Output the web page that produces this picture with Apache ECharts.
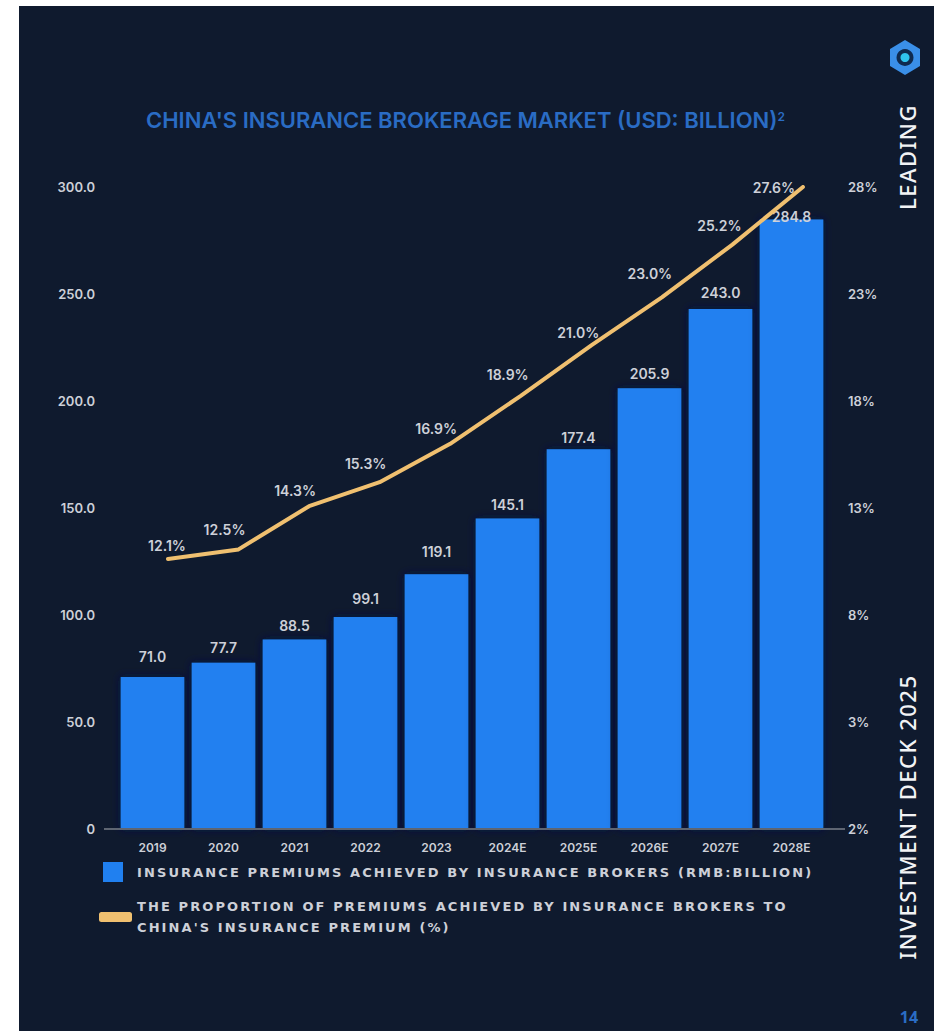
<!DOCTYPE html>
<html>
<head>
<meta charset="utf-8">
<style>
html,body{margin:0;padding:0;background:#fff}
#chart{width:934px;height:1031px}
/* Tracking for the wide-set legend and side captions. */
#chart svg text[style*="DejaVu"]{letter-spacing:2.1px}
#chart svg text[style*="Noto Sans"]{letter-spacing:1.5px}
</style>
<script src="https://cdn.jsdelivr.net/npm/echarts@6/dist/echarts.min.js"></script>
</head>
<body>
<div id="chart"></div>
<script>
const years = ['2019','2020','2021','2022','2023','2024E','2025E','2026E','2027E','2028E'];
const premiums = [71.0,77.7,88.5,99.1,119.1,145.1,177.4,205.9,243.0,284.8];
const proportions = [12.1,12.5,14.3,15.3,16.9,18.9,21.0,23.0,25.2,27.6];
const rightTicks = [-2,3,8,13,18,23,28];
const barName = 'INSURANCE PREMIUMS ACHIEVED BY INSURANCE BROKERS (RMB:BILLION)';
const lineName = "THE PROPORTION OF PREMIUMS ACHIEVED BY INSURANCE BROKERS TO CHINA'S INSURANCE PREMIUM (%)";

// Label placement around the marks, one nudge per year.
const lineLabelNudge = [[-1,-14],[-14,-20],[-14,-16],[-14,-19],[-14,-15],[-13,-21],[-13,-13],[-12,-24],[-13,-19],[-29,0]];
const barLabelNudge = [-7,-1,0,-4,-9,0,2,-1,-2,11];

const TEXT = '#cdd0d8';
const BLUE = '#2080f0';
const GOLD = '#f0c070';
const FONT = 'Inter';

const chart = echarts.init(document.getElementById('chart'), null, { renderer: 'svg' });
chart.setOption({
  animation: false,
  backgroundColor: '#ffffff',
  title: {
    text: "CHINA'S INSURANCE BROKERAGE MARKET (USD: BILLION){sup|2}",
    left: 146, top: 109, padding: 0,
    textStyle: {
      color: '#2a6cc4', fontFamily: FONT, fontSize: 22, fontWeight: 600,
      rich: { sup: { color: '#2a6cc4', fontFamily: FONT, fontSize: 12, fontWeight: 600, padding: [0,0,8,0] } }
    }
  },
  grid: [
    { left: 117, width: 710, top: 187, height: 642 },
    { left: 132.7, width: 705.5, top: 187, height: 642 }
  ],
  xAxis: [
    { type: 'category', gridIndex: 0, data: years,
      axisLine: { show: false }, axisTick: { show: false },
      axisLabel: { color: TEXT, fontFamily: FONT, fontSize: 12, fontWeight: 600, margin: 12 } },
    { type: 'category', gridIndex: 1, data: years, show: false }
  ],
  yAxis: [
    { type: 'value', gridIndex: 0, min: 0, max: 300, interval: 50,
      splitLine: { show: false }, axisLine: { show: false }, axisTick: { show: false },
      axisLabel: { color: TEXT, fontFamily: FONT, fontSize: 13, fontWeight: 600, margin: 22,
        formatter: v => v === 0 ? '0' : v.toFixed(1) } },
    { type: 'value', gridIndex: 0, position: 'right', min: -2, max: 28,
      splitLine: { show: false }, axisLine: { show: false }, axisTick: { show: false },
      axisLabel: { color: TEXT, fontFamily: FONT, fontSize: 13, fontWeight: 600, margin: 21,
        customValues: rightTicks, formatter: v => Math.abs(v) + '%' } },
    { type: 'value', gridIndex: 1, min: 0.85, max: 27.6, show: false, splitLine: { show: false } }
  ],
  legend: [
    { data: [{ name: barName, icon: 'rect', itemStyle: { color: BLUE } }],
      left: 103, top: 862, padding: 0, itemWidth: 20, itemHeight: 20, itemGap: 0,
      textStyle: { color: TEXT, fontFamily: 'DejaVu Sans', fontSize: 13, fontWeight: 700, padding: [0,0,0,9] },
      selectedMode: false },
    { data: [{ name: lineName, icon: 'roundRect', itemStyle: { color: GOLD } }],
      left: 99, top: 896, padding: 0, itemWidth: 33, itemHeight: 10, itemGap: 0,
      formatter: n => n.replace(' TO ', ' TO\n'),
      textStyle: { color: TEXT, fontFamily: 'DejaVu Sans', fontSize: 13, fontWeight: 700, lineHeight: 21, padding: [0,0,0,0] },
      selectedMode: false }
  ],
  series: [
    { type: 'bar', name: barName, xAxisIndex: 0, yAxisIndex: 0,
      data: premiums.map((v, i) => ({ value: v, label: { offset: [0, barLabelNudge[i]] } })),
      barCategoryGap: '10.5%',
      itemStyle: { color: BLUE, shadowColor: '#03174a', shadowBlur: 10 },
      label: { show: true, position: 'top', distance: 7, color: TEXT, fontFamily: FONT, fontSize: 14, fontWeight: 600,
        formatter: p => p.value.toFixed(1) } },
    { type: 'line', name: lineName, xAxisIndex: 1, yAxisIndex: 2, z: 5,
      data: proportions.map((v, i) => ({ value: v, label: { offset: lineLabelNudge[i] } })),
      showSymbol: true, symbol: 'circle', symbolSize: 1,
      lineStyle: { color: GOLD, width: 4, cap: 'round', join: 'round' },
      itemStyle: { color: GOLD },
      label: { show: true, position: 'inside', color: TEXT, fontFamily: FONT, fontSize: 14, fontWeight: 600,
        formatter: p => p.value.toFixed(1) + '%' } }
  ],
  graphic: [
    { type: 'rect', z: -10, silent: true, shape: { x: 19, y: 6, width: 915, height: 1025 }, style: { fill: '#0f1a2e' } },
    { type: 'rect', z: 3, silent: true, shape: { x: 104, y: 828, width: 741, height: 2 }, style: { fill: '#5e6572' } },
    { type: 'text', silent: true, x: 907, y: 157, rotation: Math.PI / 2,
      style: { text: 'LEADING', fill: '#f2f3f5', font: '500 22px "Noto Sans"', align: 'center', verticalAlign: 'middle' } },
    { type: 'text', silent: true, x: 907, y: 817, rotation: Math.PI / 2,
      style: { text: 'INVESTMENT DECK 2025', fill: '#f2f3f5', font: '500 22px "Noto Sans"', align: 'center', verticalAlign: 'middle' } },
    { type: 'text', silent: true, x: 909, y: 1017,
      style: { text: '14', fill: '#2a6cc4', font: '700 16px "Open Sans"', align: 'center', verticalAlign: 'middle' } },
    { type: 'polygon', silent: true, shape: { points: [[905,40],[920,49],[920,66],[905,75],[890,66],[890,49]] },
      style: { fill: '#3a8fe8' } },
    { type: 'circle', silent: true, shape: { cx: 905, cy: 57.5, r: 8.5 }, style: { fill: '#0f2a4e' } },
    { type: 'circle', silent: true, shape: { cx: 905, cy: 57.5, r: 4.5 }, style: { fill: '#2fc4ee' } }
  ]
});
</script>
</body>
</html>
